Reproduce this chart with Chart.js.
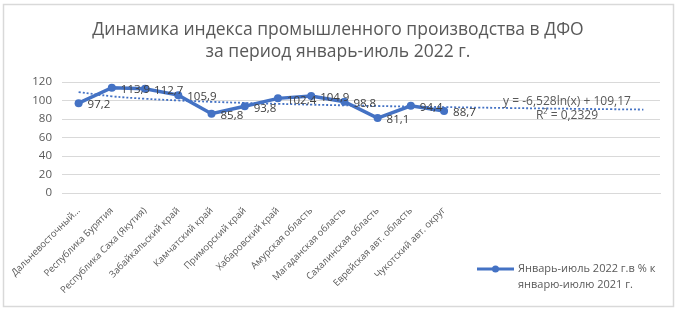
<!DOCTYPE html>
<html>
<head>
<meta charset="utf-8">
<script src="https://cdn.jsdelivr.net/npm/chart.js@4/dist/chart.umd.min.js"></script>
<style>
  html, body { margin: 0; padding: 0; background: #fff; }
  #wrap { position: relative; width: 682px; height: 313px; }
</style>
</head>
<body>
<div id="wrap"><canvas id="chart" width="682" height="313"></canvas></div>
<script>
// data
const regions = [
  'Дальневосточный...', 'Республика Бурятия', 'Республика Саха (Якутия)', 'Забайкальский край',
  'Камчатский край', 'Приморский край', 'Хабаровский край', 'Амурская область',
  'Магаданская область', 'Сахалинская область', 'Еврейская авт. область', 'Чукотский авт. округ'
];
const forecastSlots = ['', '', '', '', '', ''];   // trendline forward forecast, 6 periods
const indexValues = [97.2, 113.9, 112.7, 105.9, 85.8, 93.8, 102.4, 104.9, 98.8, 81.1, 94.4, 88.7];
const trendA = -6.528, trendB = 109.17;          // y = a*ln(x) + b, from the chart
const trendLabel = ['y = -6,528ln(x) + 109,17', 'R² = 0,2329'];
const seriesName = ['Январь-июль 2022 г.в % к', 'январю-июлю 2021 г.'];
const titleLines = ['Динамика индекса промышленного производства в ДФО', 'за период январь-июль 2022 г.'];

const labels = regions.concat(forecastSlots);
const trendValues = labels.map((_, i) => trendA * Math.log(i + 1) + trendB);

const BLUE = '#4472c4';
const GREY = '#595959';
const FONT = "'Open Sans', sans-serif";

const fmt = v => v.toFixed(1).replace('.', ',');

// point value labels, to the right of each marker
const pointLabels = {
  id: 'pointLabels',
  afterDatasetsDraw(chart) {
    const ctx = chart.ctx;
    const meta = chart.getDatasetMeta(0);
    ctx.save();
    ctx.font = '11.5px ' + FONT;
    ctx.fillStyle = '#404040';
    ctx.textAlign = 'left';
    ctx.textBaseline = 'middle';
    meta.data.forEach((pt, i) => {
      ctx.fillText(fmt(indexValues[i]), pt.x + 9, pt.y + 2);
    });
    ctx.restore();
  }
};

// trend equation, side legend and outer frame
const extras = {
  id: 'extras',
  afterDraw(chart) {
    const ctx = chart.ctx;
    ctx.save();
    ctx.fillStyle = GREY;
    ctx.font = '12px ' + FONT;
    ctx.textAlign = 'center';
    ctx.textBaseline = 'middle';
    ctx.fillText(trendLabel[0], 567, 102);
    ctx.fillText(trendLabel[1], 567, 116);

    // legend
    ctx.font = '11px ' + FONT;
    ctx.strokeStyle = BLUE;
    ctx.lineWidth = 3;
    ctx.beginPath();
    ctx.moveTo(477, 269);
    ctx.lineTo(514, 269);
    ctx.stroke();
    ctx.fillStyle = BLUE;
    ctx.beginPath();
    ctx.arc(495.5, 269, 3.5, 0, Math.PI * 2);
    ctx.fill();
    ctx.fillStyle = GREY;
    ctx.textAlign = 'left';
    ctx.fillText(seriesName[0], 518, 269);
    ctx.fillText(seriesName[1], 518, 285);

    // frame
    ctx.strokeStyle = '#d9d9d9';
    ctx.lineWidth = 1.5;
    ctx.strokeRect(3.5, 4.5, 670, 302);
    ctx.restore();
  }
};

new Chart(document.getElementById('chart'), {
  type: 'line',
  data: {
    labels,
    datasets: [
      {
        label: seriesName.join(' '),
        data: indexValues,
        borderColor: BLUE,
        backgroundColor: BLUE,
        borderWidth: 3.5,
        pointRadius: 4,
        pointBackgroundColor: BLUE,
        pointBorderWidth: 0,
        tension: 0,
        order: 1
      },
      {
        label: 'trend',
        data: trendValues,
        borderColor: BLUE,
        borderWidth: 1.8,
        borderDash: [2, 2],
        pointRadius: 0,
        tension: 0.4,
        order: 2
      }
    ]
  },
  options: {
    responsive: false,
    animation: false,
    devicePixelRatio: 1,
    layout: { padding: { left: 16, right: 22, top: 0, bottom: 0 } },
    plugins: {
      legend: { display: false },
      tooltip: { enabled: false },
      title: {
        display: true,
        text: titleLines,
        color: GREY,
        font: { family: FONT, size: 17.5, weight: 'normal', lineHeight: 1.26 },
        padding: { top: 19, bottom: 19 }
      }
    },
    scales: {
      x: {
        offset: true,
        grid: { display: false },
        border: { color: '#d9d9d9' },
        ticks: {
          color: GREY,
          font: { family: FONT, size: 9.5 },
          autoSkip: false,
          minRotation: 45,
          maxRotation: 45,
          padding: 4
        },
        afterFit: s => { s.height = 120; }
      },
      y: {
        min: 0,
        max: 120,
        ticks: { stepSize: 20, color: GREY, font: { family: FONT, size: 11.5 }, padding: 10 },
        grid: { color: '#d9d9d9', drawTicks: false },
        border: { display: false },
        afterFit: s => { s.width = 46; }
      }
    }
  },
  plugins: [pointLabels, extras]
});
</script>
</body>
</html>
